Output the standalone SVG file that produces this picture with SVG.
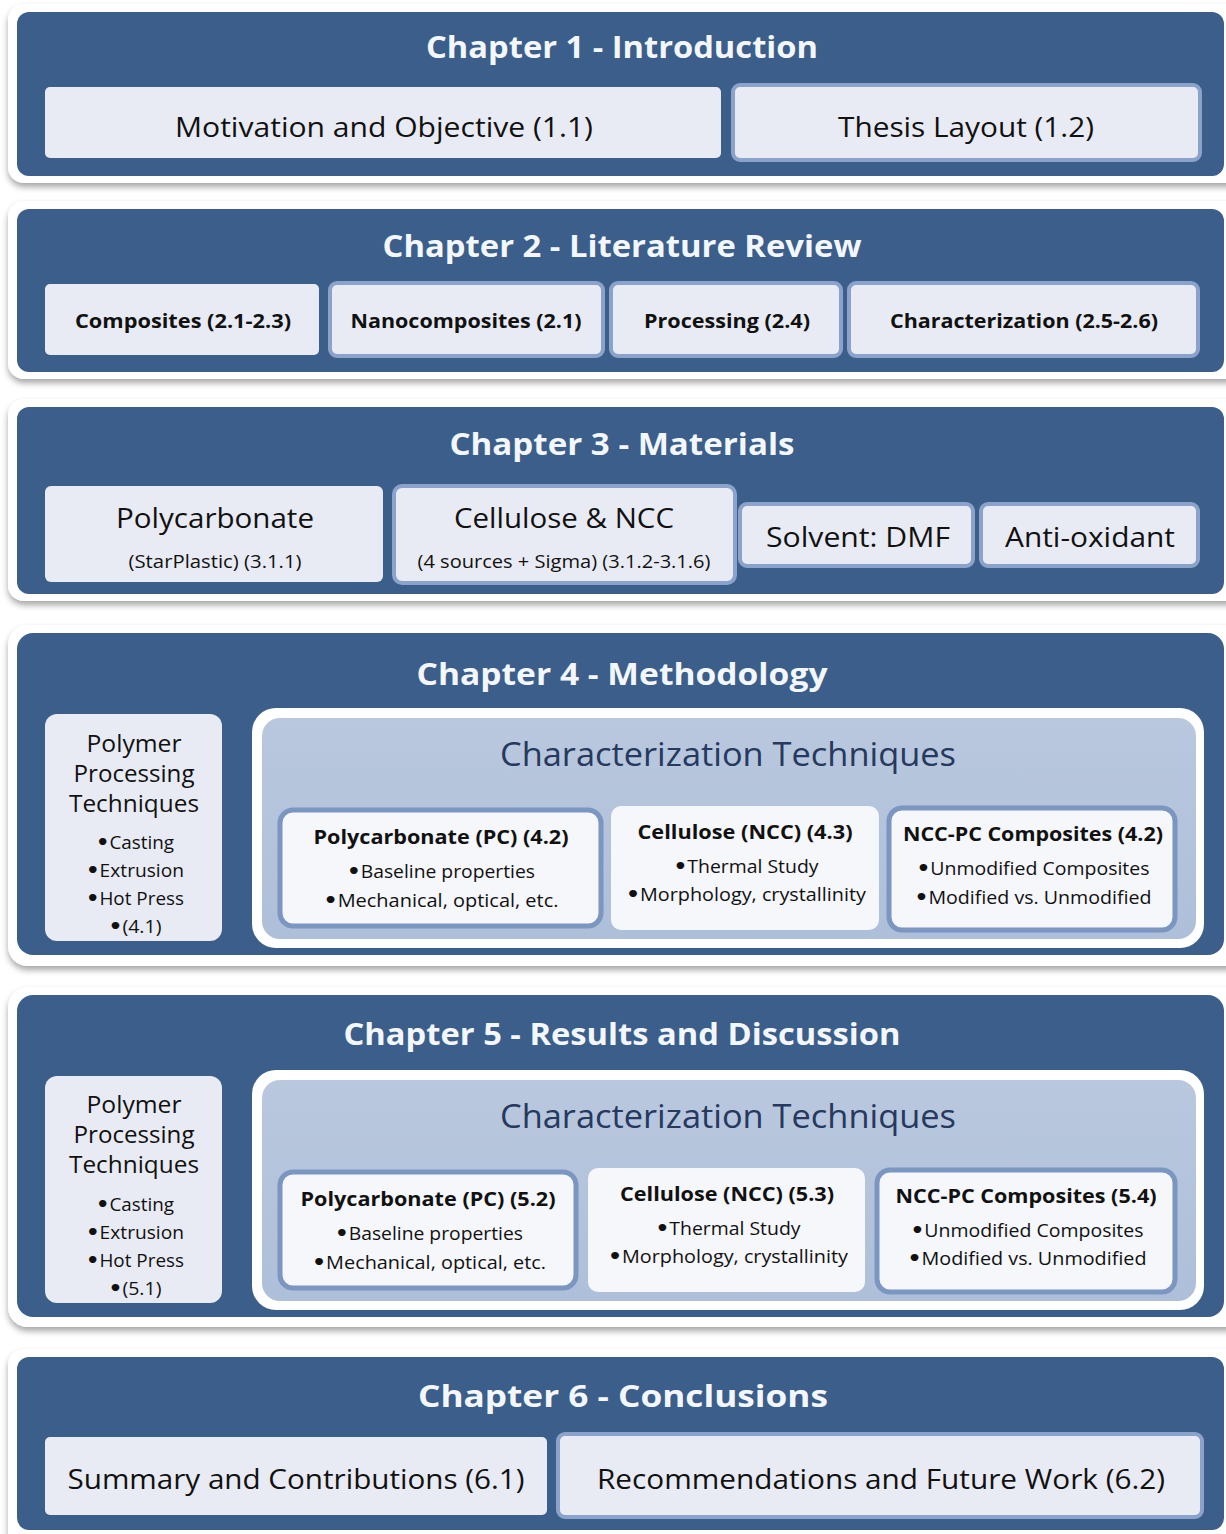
<svg xmlns="http://www.w3.org/2000/svg" width="1226" height="1534" viewBox="0 0 1226 1534">
<defs>
<filter id="sh" x="-5%" y="-10%" width="110%" height="125%">
<feDropShadow dx="0" dy="4" stdDeviation="3" flood-color="#000" flood-opacity="0.35"/>
</filter>
<linearGradient id="inner" x1="0" y1="0" x2="0" y2="1">
<stop offset="0" stop-color="#b9c8de"/>
<stop offset="1" stop-color="#aebfd9"/>
</linearGradient>
</defs>
<style>
.frame{fill:#ffffff;filter:url(#sh)}
.panel{fill:#3b5e8a}
.box{fill:#e8ebf3}
.boxb{fill:#e8ebf3;stroke:#8ba3ca;stroke-width:4}
.wbox{fill:#f5f7fb}
.wboxb{fill:#f5f7fb;stroke:#7b96c1;stroke-width:5}
.ttl{font-family:"Open Sans","Liberation Sans",sans-serif;font-weight:bold;font-size:31px;fill:#f3f7fb;text-anchor:middle}
.t30{font-family:"Open Sans","Liberation Sans",sans-serif;font-size:28px;fill:#111;text-anchor:middle}
.b21{font-family:"Open Sans","Liberation Sans",sans-serif;font-weight:bold;font-size:20px;fill:#111;text-anchor:middle}
.s19{font-family:"Open Sans","Liberation Sans",sans-serif;font-size:18px;fill:#111;text-anchor:middle}
.l26{font-family:"Open Sans","Liberation Sans",sans-serif;font-size:23px;fill:#111;text-anchor:middle}
.ct{font-family:"Open Sans","Liberation Sans",sans-serif;font-size:33px;fill:#26395e;text-anchor:middle}
.bu{font-family:"DejaVu Sans",sans-serif;font-size:20px;font-weight:bold}
</style>
<g id="connectors"/>

<g id="ch1">
<rect class="frame" x="8" y="4" width="1240" height="179" rx="16"/>
<rect class="panel" x="17" y="12" width="1207" height="164" rx="12"/>
<text class="ttl" x="622" y="58" textLength="392" lengthAdjust="spacingAndGlyphs">Chapter 1 - Introduction</text>
<g id="n1-1"><rect class="box" x="45" y="87" width="676" height="71" rx="5"/>
<text class="t30" x="384" y="137" textLength="418" lengthAdjust="spacingAndGlyphs">Motivation and Objective (1.1)</text></g>
<g id="n1-2"><rect class="boxb" x="733" y="85" width="467" height="75" rx="7"/>
<text class="t30" x="966" y="137" textLength="256" lengthAdjust="spacingAndGlyphs">Thesis Layout (1.2)</text></g>
</g>

<g id="ch2">
<rect class="frame" x="8" y="201" width="1240" height="178" rx="16"/>
<rect class="panel" x="17" y="209" width="1207" height="163" rx="12"/>
<text class="ttl" x="622" y="257" textLength="479" lengthAdjust="spacingAndGlyphs">Chapter 2 - Literature Review</text>
<g id="n2-1"><rect class="box" x="45" y="284" width="274" height="71" rx="5"/>
<text class="b21" x="183" y="328" textLength="216" lengthAdjust="spacingAndGlyphs">Composites (2.1-2.3)</text></g>
<g id="n2-2"><rect class="boxb" x="330" y="283" width="273" height="73" rx="7"/>
<text class="b21" x="466" y="328" textLength="231" lengthAdjust="spacingAndGlyphs">Nanocomposites (2.1)</text></g>
<g id="n2-3"><rect class="boxb" x="611" y="283" width="230" height="73" rx="7"/>
<text class="b21" x="727" y="328" textLength="166" lengthAdjust="spacingAndGlyphs">Processing (2.4)</text></g>
<g id="n2-4"><rect class="boxb" x="849" y="283" width="349" height="73" rx="7"/>
<text class="b21" x="1024" y="328" textLength="268" lengthAdjust="spacingAndGlyphs">Characterization (2.5-2.6)</text></g>
</g>

<g id="ch3">
<rect class="frame" x="8" y="399" width="1240" height="202" rx="16"/>
<rect class="panel" x="17" y="407" width="1207" height="187" rx="12"/>
<text class="ttl" x="622" y="455" textLength="345" lengthAdjust="spacingAndGlyphs">Chapter 3 - Materials</text>
<g id="n3-1"><rect class="box" x="45" y="486" width="338" height="96" rx="6"/>
<text class="t30" x="215" y="528" textLength="198" lengthAdjust="spacingAndGlyphs">Polycarbonate</text>
<text class="s19" x="215" y="568" textLength="173" lengthAdjust="spacingAndGlyphs">(StarPlastic) (3.1.1)</text></g>
<g id="n3-2"><rect class="boxb" x="394" y="486" width="341" height="97" rx="8"/>
<text class="t30" x="564" y="528" textLength="220" lengthAdjust="spacingAndGlyphs">Cellulose &amp; NCC</text>
<text class="s19" x="564" y="568" textLength="293" lengthAdjust="spacingAndGlyphs">(4 sources + Sigma) (3.1.2-3.1.6)</text></g>
<g id="n3-3"><rect class="boxb" x="740" y="504" width="233" height="62" rx="7"/>
<text class="t30" x="858" y="547" textLength="184" lengthAdjust="spacingAndGlyphs">Solvent: DMF</text></g>
<g id="n3-4"><rect class="boxb" x="981" y="504" width="217" height="62" rx="7"/>
<text class="t30" x="1090" y="547" textLength="170" lengthAdjust="spacingAndGlyphs">Anti-oxidant</text></g>
</g>

<g id="ch4">
<rect class="frame" x="8" y="625" width="1240" height="341" rx="20"/>
<rect class="panel" x="17" y="633" width="1207" height="322" rx="16"/>
<text class="ttl" x="622" y="685" textLength="411" lengthAdjust="spacingAndGlyphs">Chapter 4 - Methodology</text>
<g id="n4-1"><rect class="box" x="45" y="714" width="177" height="227" rx="12"/>
<text class="l26" x="134" y="752" textLength="95" lengthAdjust="spacingAndGlyphs">Polymer</text>
<text class="l26" x="134" y="782" textLength="121" lengthAdjust="spacingAndGlyphs">Processing</text>
<text class="l26" x="134" y="812" textLength="130" lengthAdjust="spacingAndGlyphs">Techniques</text>
<text class="s19" x="135" y="849" textLength="78" lengthAdjust="spacingAndGlyphs"><tspan class="bu">•</tspan>Casting</text>
<text class="s19" x="135" y="877" textLength="98" lengthAdjust="spacingAndGlyphs"><tspan class="bu">•</tspan>Extrusion</text>
<text class="s19" x="135" y="905" textLength="98" lengthAdjust="spacingAndGlyphs"><tspan class="bu">•</tspan>Hot Press</text>
<text class="s19" x="135" y="933" textLength="53" lengthAdjust="spacingAndGlyphs"><tspan class="bu">•</tspan>(4.1)</text></g>
<g id="n4-2">
<rect x="252" y="708" width="952" height="240" rx="24" fill="#ffffff"/>
<rect x="262" y="718" width="934" height="221" rx="18" fill="url(#inner)"/>
<text class="ct" x="728" y="766" textLength="456" lengthAdjust="spacingAndGlyphs">Characterization Techniques</text>
</g>
<g id="n4-3"><rect class="wboxb" x="280" y="810" width="321" height="116" rx="13"/>
<text class="b21" x="441" y="844" textLength="255" lengthAdjust="spacingAndGlyphs">Polycarbonate (PC) (4.2)</text>
<text class="s19" x="441" y="878" textLength="188" lengthAdjust="spacingAndGlyphs"><tspan class="bu">•</tspan>Baseline properties</text>
<text class="s19" x="441" y="907" textLength="235" lengthAdjust="spacingAndGlyphs"><tspan class="bu">•</tspan>Mechanical, optical, etc.</text></g>
<g id="n4-4"><rect class="wbox" x="611" y="806" width="268" height="124" rx="10"/>
<text class="b21" x="745" y="839" textLength="215" lengthAdjust="spacingAndGlyphs">Cellulose (NCC) (4.3)</text>
<text class="s19" x="746" y="873" textLength="145" lengthAdjust="spacingAndGlyphs"><tspan class="bu">•</tspan>Thermal Study</text>
<text class="s19" x="746" y="901" textLength="240" lengthAdjust="spacingAndGlyphs"><tspan class="bu">•</tspan>Morphology, crystallinity</text></g>
<g id="n4-5"><rect class="wboxb" x="889" y="808" width="286" height="122" rx="13"/>
<text class="b21" x="1033" y="841" textLength="260" lengthAdjust="spacingAndGlyphs">NCC-PC Composites (4.2)</text>
<text class="s19" x="1033" y="875" textLength="233" lengthAdjust="spacingAndGlyphs"><tspan class="bu">•</tspan>Unmodified Composites</text>
<text class="s19" x="1033" y="904" textLength="237" lengthAdjust="spacingAndGlyphs"><tspan class="bu">•</tspan>Modified vs. Unmodified</text></g>
</g>

<g id="ch5">
<rect class="frame" x="8" y="987" width="1240" height="340" rx="20"/>
<rect class="panel" x="17" y="995" width="1207" height="322" rx="16"/>
<text class="ttl" x="622" y="1045" textLength="557" lengthAdjust="spacingAndGlyphs">Chapter 5 - Results and Discussion</text>
<g id="n5-1"><rect class="box" x="45" y="1076" width="177" height="227" rx="12"/>
<text class="l26" x="134" y="1113" textLength="95" lengthAdjust="spacingAndGlyphs">Polymer</text>
<text class="l26" x="134" y="1143" textLength="121" lengthAdjust="spacingAndGlyphs">Processing</text>
<text class="l26" x="134" y="1173" textLength="130" lengthAdjust="spacingAndGlyphs">Techniques</text>
<text class="s19" x="135" y="1211" textLength="78" lengthAdjust="spacingAndGlyphs"><tspan class="bu">•</tspan>Casting</text>
<text class="s19" x="135" y="1239" textLength="98" lengthAdjust="spacingAndGlyphs"><tspan class="bu">•</tspan>Extrusion</text>
<text class="s19" x="135" y="1267" textLength="98" lengthAdjust="spacingAndGlyphs"><tspan class="bu">•</tspan>Hot Press</text>
<text class="s19" x="135" y="1295" textLength="53" lengthAdjust="spacingAndGlyphs"><tspan class="bu">•</tspan>(5.1)</text></g>
<g id="n5-2">
<rect x="252" y="1070" width="952" height="240" rx="24" fill="#ffffff"/>
<rect x="262" y="1080" width="934" height="221" rx="18" fill="url(#inner)"/>
<text class="ct" x="728" y="1128" textLength="456" lengthAdjust="spacingAndGlyphs">Characterization Techniques</text>
</g>
<g id="n5-3"><rect class="wboxb" x="280" y="1172" width="296" height="116" rx="13"/>
<text class="b21" x="428" y="1206" textLength="255" lengthAdjust="spacingAndGlyphs">Polycarbonate (PC) (5.2)</text>
<text class="s19" x="429" y="1240" textLength="188" lengthAdjust="spacingAndGlyphs"><tspan class="bu">•</tspan>Baseline properties</text>
<text class="s19" x="429" y="1269" textLength="234" lengthAdjust="spacingAndGlyphs"><tspan class="bu">•</tspan>Mechanical, optical, etc.</text></g>
<g id="n5-4"><rect class="wbox" x="588" y="1168" width="277" height="124" rx="10"/>
<text class="b21" x="727" y="1201" textLength="214" lengthAdjust="spacingAndGlyphs">Cellulose (NCC) (5.3)</text>
<text class="s19" x="728" y="1235" textLength="145" lengthAdjust="spacingAndGlyphs"><tspan class="bu">•</tspan>Thermal Study</text>
<text class="s19" x="728" y="1263" textLength="240" lengthAdjust="spacingAndGlyphs"><tspan class="bu">•</tspan>Morphology, crystallinity</text></g>
<g id="n5-5"><rect class="wboxb" x="877" y="1170" width="298" height="122" rx="13"/>
<text class="b21" x="1026" y="1203" textLength="261" lengthAdjust="spacingAndGlyphs">NCC-PC Composites (5.4)</text>
<text class="s19" x="1027" y="1237" textLength="233" lengthAdjust="spacingAndGlyphs"><tspan class="bu">•</tspan>Unmodified Composites</text>
<text class="s19" x="1027" y="1265" textLength="239" lengthAdjust="spacingAndGlyphs"><tspan class="bu">•</tspan>Modified vs. Unmodified</text></g>
</g>

<g id="ch6">
<rect class="frame" x="8" y="1349" width="1240" height="200" rx="16"/>
<rect class="panel" x="17" y="1357" width="1207" height="173" rx="12"/>
<text class="ttl" x="623" y="1407" textLength="410" lengthAdjust="spacingAndGlyphs">Chapter 6 - Conclusions</text>
<g id="n6-1"><rect class="box" x="45" y="1437" width="502" height="78" rx="5"/>
<text class="t30" x="296" y="1489" textLength="457" lengthAdjust="spacingAndGlyphs">Summary and Contributions (6.1)</text></g>
<g id="n6-2"><rect class="boxb" x="558" y="1434" width="644" height="83" rx="7"/>
<text class="t30" x="881" y="1489" textLength="568" lengthAdjust="spacingAndGlyphs">Recommendations and Future Work (6.2)</text></g>
</g>
</svg>
